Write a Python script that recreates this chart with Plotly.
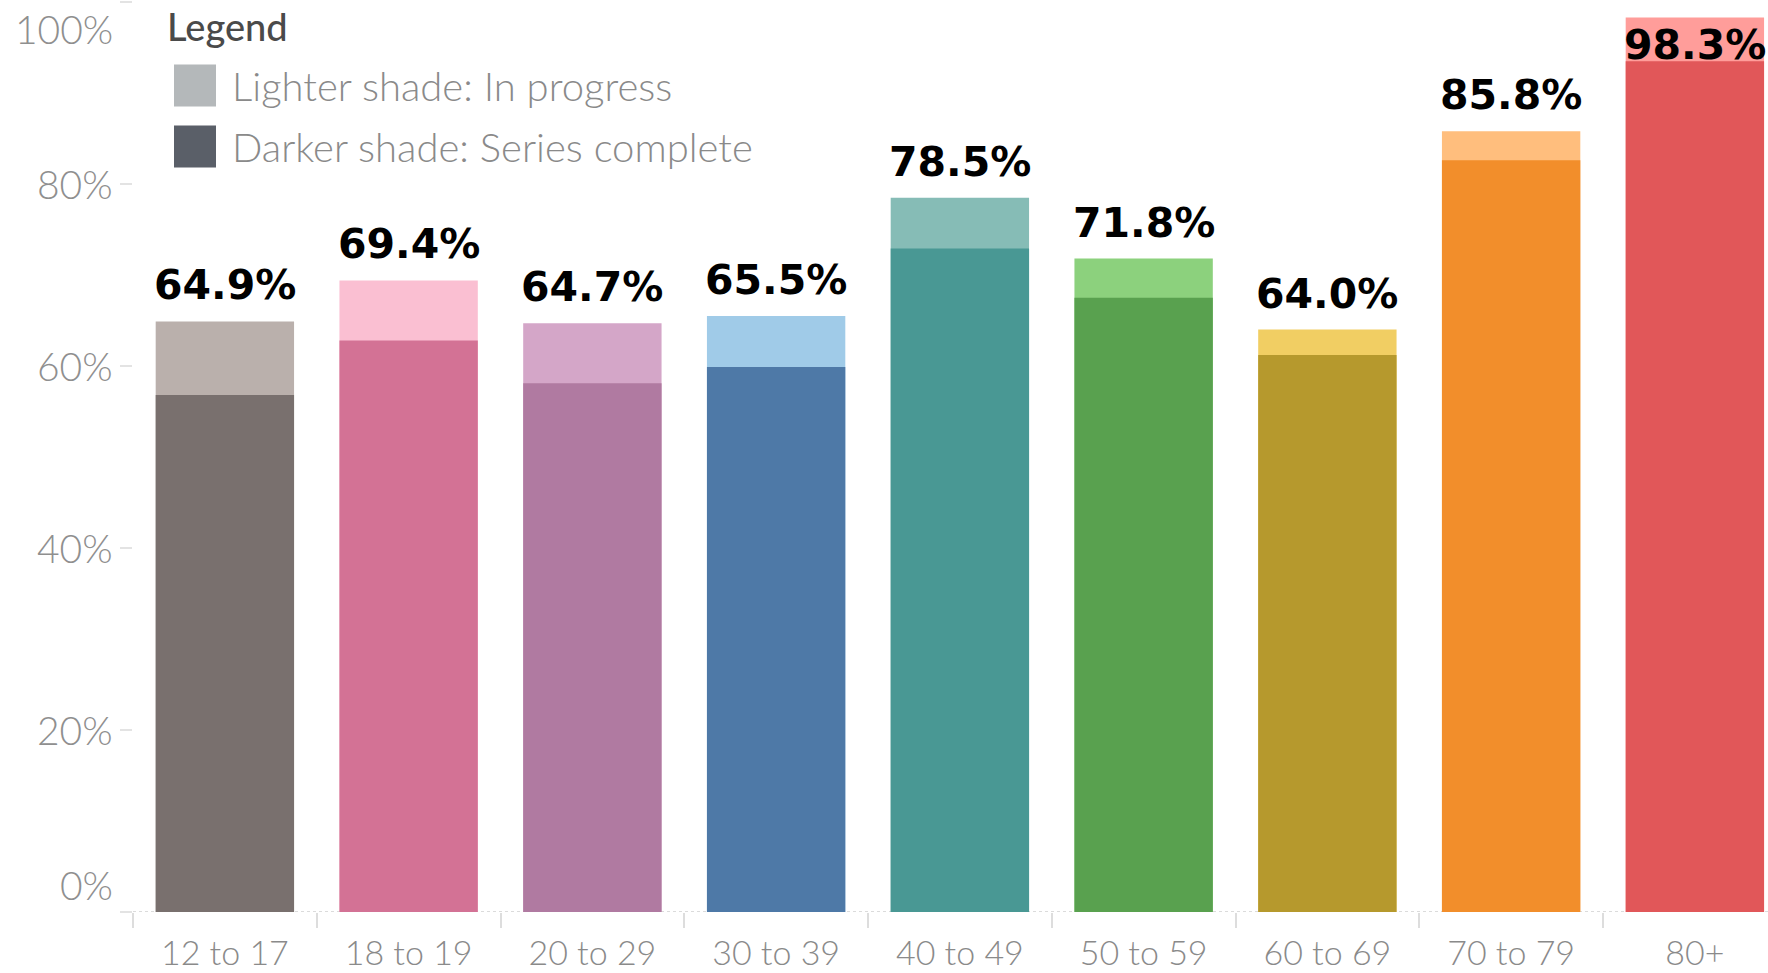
import plotly.graph_objects as go

# ---- data ----
age_groups = ["12 to 17", "18 to 19", "20 to 29", "30 to 39", "40 to 49",
              "50 to 59", "60 to 69", "70 to 79", "80+"]
at_least_one_dose = [64.9, 69.4, 64.7, 65.5, 78.5, 71.8, 64.0, 85.8, 98.3]
series_complete = [56.8, 62.8, 58.1, 59.9, 72.9, 67.5, 61.2, 82.6, 93.5]
dark_colors = ["#79706e", "#d37295", "#b07aa1", "#4e79a7", "#499894",
               "#59a14f", "#b6992d", "#f28e2b", "#e15759"]
light_colors = ["#bab0ac", "#fabfd2", "#d4a6c8", "#a0cbe8", "#86bcb6",
                "#8cd17d", "#f1ce63", "#ffbe7d", "#ff9d9a"]
y_ticks = [0, 20, 40, 60, 80, 100]
legend_title = "Legend"
legend_items = ["Lighter shade: In progress", "Darker shade: Series complete"]
legend_colors = ["#b4b8ba", "#5a5f68"]

# ---- layout geometry ----
W, H = 1768, 973
ML, MR, MT, MB = 133, 0, 2, 61
PW, PH = W - ML - MR, H - MT - MB
X_MAX = -0.5 + PW / 183.75

def px_x(p):
    return (p - ML) / PW

def px_y(p):
    return (H - MB - p) / PH

AXIS_FONT = dict(family="Lato", size=39, color="#8f8f8f", weight=300)
XTICK_FONT = dict(family="Lato", size=34, color="#8a8a8a", weight=300)
LABEL_FONT = dict(family="DejaVu Sans", size=41, color="#000000", weight="bold")

fig = go.Figure()
fig.add_trace(go.Bar(x=age_groups, y=at_least_one_dose, marker=dict(color=light_colors, line=dict(width=0)),
                     width=0.753, name="In progress", showlegend=False, hoverinfo="x+y"))
fig.add_trace(go.Bar(x=age_groups, y=series_complete, marker=dict(color=dark_colors, line=dict(width=0)),
                     width=0.753, name="Series complete", showlegend=False, hoverinfo="x+y"))

annotations = []
for cat, tot in zip(age_groups, at_least_one_dose):
    if tot > 95:
        annotations.append(dict(x=cat, y=100, xref="x", yref="y", text=f"{tot:.1f}%",
                                showarrow=False, yanchor="top", yshift=-17, font=LABEL_FONT))
    else:
        annotations.append(dict(x=cat, y=tot, xref="x", yref="y", text=f"{tot:.1f}%",
                                showarrow=False, yanchor="bottom", yshift=10, font=LABEL_FONT))

for t in y_ticks:
    shift = 0
    if t == y_ticks[0]:
        shift = 27
    elif t == y_ticks[-1]:
        shift = -27
    annotations.append(dict(x=0, xref="paper", y=t, yref="y", text=f"{t}%", showarrow=False,
                            xanchor="right", xshift=-18, yshift=shift, font=AXIS_FONT))

# legend
annotations.append(dict(x=px_x(165), y=px_y(26), xref="paper", yref="paper", text=legend_title,
                        showarrow=False, xanchor="left", yanchor="middle",
                        font=dict(family="Lato", size=38, color="#4a4a4a", weight=500)))
shapes = []
for i, (lab, col) in enumerate(zip(legend_items, legend_colors)):
    cy = 85.5 + i * 61
    shapes.append(dict(type="rect", xref="paper", yref="paper",
                       x0=px_x(174), x1=px_x(216), y0=px_y(cy - 21), y1=px_y(cy + 21),
                       fillcolor=col, line=dict(width=0)))
    annotations.append(dict(x=px_x(230), y=px_y(cy), xref="paper", yref="paper", text=lab,
                            showarrow=False, xanchor="left", yanchor="middle",
                            font=dict(family="Lato", size=40, color="#8a8a8a", weight=300)))

# dotted baseline
shapes.append(dict(type="line", xref="paper", yref="y", x0=0, x1=1, y0=0, y1=0,
                   line=dict(color="#d0d0d0", width=1.5, dash="dot"), layer="below"))

fig.update_layout(
    width=W, height=H,
    margin=dict(l=ML, r=MR, t=MT, b=MB, pad=0),
    barmode="overlay",
    plot_bgcolor="white", paper_bgcolor="white",
    annotations=annotations,
    shapes=shapes,
    showlegend=False,
    xaxis=dict(type="category", range=[-0.5, X_MAX], showgrid=False, zeroline=False,
               showline=False, tickson="boundaries", ticks="outside", ticklen=15,
               tickcolor="#dddddd", tickwidth=1.5, tickfont=XTICK_FONT, ticklabelstandoff=18),
    yaxis=dict(range=[0, 100], tickvals=y_ticks, showticklabels=False, showgrid=False,
               zeroline=False, showline=False, ticks="outside", ticklen=12,
               tickcolor="#e3e3e3", tickwidth=1.5),
)

fig.write_html("out.html", config={"displayModeBar": False},
               post_script="document.body.style.margin='0';document.body.style.overflow='hidden';")
